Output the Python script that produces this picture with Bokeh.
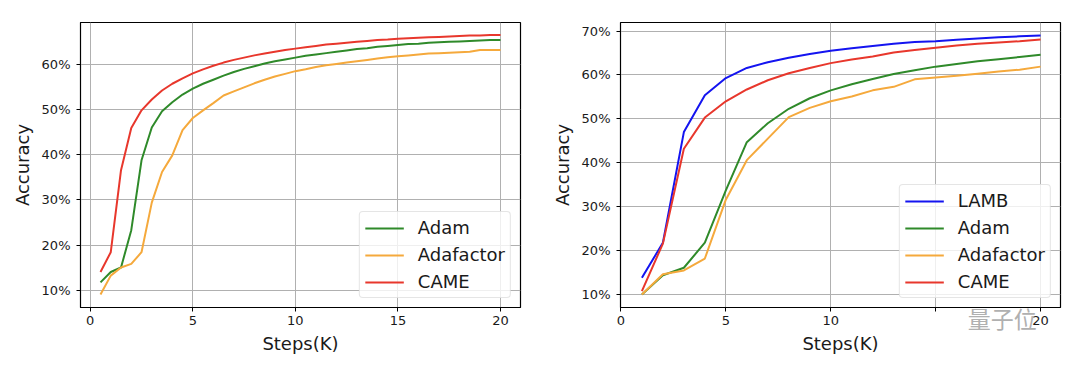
from bokeh.plotting import figure
from bokeh.layouts import row
from bokeh.models import (Range1d, FixedTicker, PrintfTickFormatter, Legend, LegendItem,
                          LinearAxis)
from bokeh.embed import file_html
from bokeh.resources import INLINE

# ---------------- data: left chart ----------------
steps_left = [0.5, 1.0, 1.5, 2.0, 2.5, 3.0, 3.5, 4.0, 4.5, 5.0,
              5.5, 6.0, 6.5, 7.0, 7.5, 8.0, 8.5, 9.0, 9.5, 10.0,
              10.5, 11.0, 11.5, 12.0, 12.5, 13.0, 13.5, 14.0, 14.5, 15.0,
              15.5, 16.0, 16.5, 17.0, 17.5, 18.0, 18.5, 19.0, 19.5, 20.0]
adam_left = [11.7, 14.0, 15.0, 23.3, 38.8, 46.1, 49.7, 51.7, 53.4, 54.7,
             55.8, 56.7, 57.6, 58.4, 59.1, 59.7, 60.3, 60.8, 61.2, 61.6,
             62.0, 62.3, 62.6, 62.9, 63.2, 63.5, 63.7, 64.0, 64.2, 64.4,
             64.6, 64.7, 64.9, 65.0, 65.1, 65.2, 65.3, 65.4, 65.5, 65.5]
adafactor_left = [9.0, 13.2, 15.0, 15.8, 18.4, 29.4, 36.2, 39.9, 45.5, 48.2,
                  49.9, 51.5, 53.2, 54.1, 55.0, 55.9, 56.7, 57.4, 58.0, 58.6,
                  59.0, 59.5, 59.9, 60.2, 60.5, 60.8, 61.1, 61.4, 61.7, 61.9,
                  62.1, 62.3, 62.5, 62.6, 62.7, 62.8, 62.9, 63.3, 63.3, 63.3]
came_left = [14.0, 18.4, 36.6, 46.0, 49.9, 52.3, 54.3, 55.8, 57.0, 58.1,
             59.0, 59.8, 60.5, 61.1, 61.6, 62.1, 62.5, 62.9, 63.3, 63.6,
             63.9, 64.2, 64.5, 64.7, 64.9, 65.1, 65.3, 65.5, 65.6, 65.8,
             65.9, 66.0, 66.1, 66.2, 66.3, 66.4, 66.5, 66.5, 66.6, 66.6]

# ---------------- data: right chart ----------------
steps_right = [1, 2, 3, 4, 5, 6, 7, 8, 9, 10, 11, 12, 13, 14, 15, 16, 17, 18, 19, 20]
lamb_right = [13.8, 21.8, 47.0, 55.4, 59.3, 61.6, 62.9, 63.9, 64.8, 65.5,
              66.1, 66.6, 67.1, 67.5, 67.7, 68.0, 68.3, 68.6, 68.8, 69.0]
adam_right = [10.0, 14.4, 16.1, 21.8, 33.7, 44.7, 49.0, 52.3, 54.7, 56.5,
              57.9, 59.1, 60.2, 61.1, 61.9, 62.5, 63.1, 63.6, 64.1, 64.6]
adafactor_right = [10.0, 14.6, 15.5, 18.2, 31.6, 40.6, 45.5, 50.4, 52.5, 54.0,
                   55.1, 56.5, 57.3, 59.0, 59.4, 59.8, 60.3, 60.8, 61.2, 61.9]
came_right = [10.8, 21.6, 43.2, 50.3, 54.0, 56.7, 58.8, 60.4, 61.6, 62.7,
              63.5, 64.2, 65.1, 65.7, 66.2, 66.7, 67.1, 67.4, 67.7, 68.1]

x_ticks = [0, 5, 10, 15, 20]
y_ticks_left = [10, 20, 30, 40, 50, 60]
y_ticks_right = [10, 20, 30, 40, 50, 60, 70]
watermark_text = "量子位"
watermark_pos = 18.17

COL = {"LAMB": "#1414f0", "Adam": "#2f8a2a", "Adafactor": "#f5a93c", "CAME": "#e8372c"}
FONT = "DejaVu Sans"
TXT = "#1a1a1a"


def make_fig(xr, yr, yticks, border_left, border_right):
    p = figure(frame_width=440, frame_height=285,
               x_range=Range1d(*xr), y_range=Range1d(*yr),
               output_backend="svg", toolbar_location=None,
               min_border_left=border_left, min_border_right=border_right,
               min_border_top=22, min_border_bottom=57)
    p.background_fill_color = "white"
    p.border_fill_color = "white"
    p.outline_line_color = "black"
    p.outline_line_width = 1.2
    p.xaxis.ticker = FixedTicker(ticks=x_ticks)
    p.yaxis.ticker = FixedTicker(ticks=yticks)
    p.yaxis.formatter = PrintfTickFormatter(format="%d%%")
    for ax in (p.xaxis, p.yaxis):
        ax.axis_line_color = "black"
        ax.axis_line_width = 1
        ax.major_tick_line_color = "black"
        ax.major_tick_out = 4
        ax.major_tick_in = 0
        ax.minor_tick_line_color = None
        ax.major_label_text_font = FONT
        ax.major_label_text_font_size = "13px"
        ax.major_label_text_color = TXT
        ax.axis_label_text_font = FONT
        ax.axis_label_text_font_size = "18px"
        ax.axis_label_text_font_style = "normal"
        ax.axis_label_text_color = TXT
    p.xaxis.major_label_standoff = 4
    p.yaxis.major_label_standoff = 6
    p.xaxis.axis_label_standoff = 5
    p.yaxis.axis_label_standoff = 6
    p.xaxis.axis_label = "Steps(K)"
    p.yaxis.axis_label = "Accuracy"
    p.grid.grid_line_color = "#b0b0b0"
    p.grid.grid_line_width = 1
    return p


def add_legend(p, items):
    lg = Legend(items=items, location="bottom_right")
    lg.margin = 9
    lg.padding = 5
    lg.spacing = 6
    lg.glyph_width = 39
    lg.glyph_height = 20
    lg.label_height = 20
    lg.label_standoff = 14
    lg.label_text_font = FONT
    lg.label_text_font_size = "18px"
    lg.label_text_color = TXT
    lg.border_line_color = "#cccccc"
    lg.border_line_width = 1
    lg.background_fill_color = "white"
    lg.background_fill_alpha = 0.8
    try:
        lg.border_radius = 4
    except Exception:
        pass
    p.add_layout(lg)


# ---------------- left figure ----------------
p1 = make_fig((-0.475, 20.975), (6.125, 69.4), y_ticks_left, 80, 20)
r_adam1 = p1.line(steps_left, adam_left, line_color=COL["Adam"], line_width=2)
r_adaf1 = p1.line(steps_left, adafactor_left, line_color=COL["Adafactor"], line_width=2)
r_came1 = p1.line(steps_left, came_left, line_color=COL["CAME"], line_width=2)
add_legend(p1, [LegendItem(label="Adam", renderers=[r_adam1]),
                LegendItem(label="Adafactor", renderers=[r_adaf1]),
                LegendItem(label="CAME", renderers=[r_came1])])

# ---------------- right figure ----------------
p2 = make_fig((-0.02, 20.95), (7.05, 71.95), y_ticks_right, 80, 18)
r_lamb2 = p2.line(steps_right, lamb_right, line_color=COL["LAMB"], line_width=2)
r_adam2 = p2.line(steps_right, adam_right, line_color=COL["Adam"], line_width=2)
r_adaf2 = p2.line(steps_right, adafactor_right, line_color=COL["Adafactor"], line_width=2)
r_came2 = p2.line(steps_right, came_right, line_color=COL["CAME"], line_width=2)
add_legend(p2, [LegendItem(label="LAMB", renderers=[r_lamb2]),
                LegendItem(label="Adam", renderers=[r_adam2]),
                LegendItem(label="Adafactor", renderers=[r_adaf2]),
                LegendItem(label="CAME", renderers=[r_came2])])
p2.xaxis.major_label_overrides = {15: ""}

# watermark drawn as the label of an invisible extra axis
wm_axis = LinearAxis(ticker=FixedTicker(ticks=[watermark_pos]),
                     major_label_overrides={watermark_pos: watermark_text})
wm_axis.axis_line_color = None
wm_axis.major_tick_line_color = None
wm_axis.minor_tick_line_color = None
wm_axis.major_tick_out = 0
wm_axis.major_tick_in = 0
wm_axis.major_label_standoff = -56
wm_axis.major_label_text_font = "Noto Sans CJK SC"
wm_axis.major_label_text_font_size = "23px"
wm_axis.major_label_text_color = "#b0b0b0"
p2.add_layout(wm_axis, "below")

layout = row(p1, p2)
open("out.html", "w").write(file_html(layout, INLINE))
